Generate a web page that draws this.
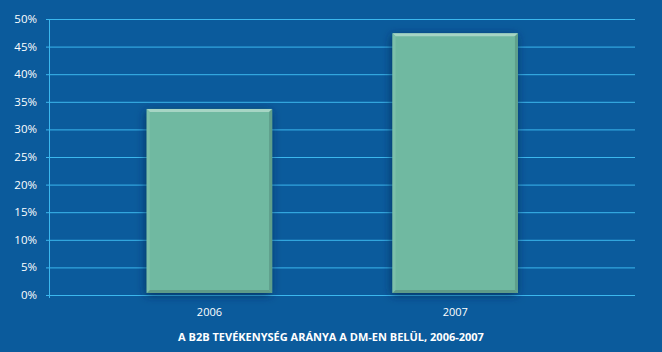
<!DOCTYPE html>
<html>
<head>
<meta charset="utf-8">
<script src="https://cdn.jsdelivr.net/npm/d3@7"></script>
<style>
  html, body { margin: 0; padding: 0; background: #0b5b9c; }
  svg text { font-family: "Open Sans", "DejaVu Sans", sans-serif; fill: #ffffff; }
</style>
</head>
<body>
<div id="container"></div>
<script>
const years = ["2006", "2007"];
const shares = [33.7, 47.4];
const yTicks = [0, 5, 10, 15, 20, 25, 30, 35, 40, 45, 50];
const title = "A B2B TEVÉKENYSÉG ARÁNYA A DM-EN BELÜL, 2006-2007";

const width = 662, height = 352;
const margin = { top: 19, right: 27, bottom: 57, left: 49 };

const svg = d3
  .select("#container")
  .append("svg")
  .attr("width", width)
  .attr("height", height);

svg.append("rect").attr("width", width).attr("height", height).attr("fill", "#0b5b9c");

const defs = svg.append("defs");
const shadow = defs.append("filter").attr("id", "shadow")
  .attr("x", "-20%").attr("y", "-10%").attr("width", "140%").attr("height", "120%");
shadow.append("feDropShadow")
  .attr("dx", -1).attr("dy", 2).attr("stdDeviation", 5)
  .attr("flood-color", "#03294f").attr("flood-opacity", 0.75);

const xScale = d3
  .scaleBand()
  .domain(years)
  .range([margin.left, width - margin.right])
  .paddingInner(0.49)
  .paddingOuter(0.437)
  .align(0.455);

const yScale = d3
  .scaleLinear()
  .domain([0, 50])
  .range([height - margin.bottom, margin.top]);

// grid lines
svg.append("g")
  .selectAll("line")
  .data(yTicks)
  .enter()
  .append("line")
  .attr("x1", margin.left - 3)
  .attr("x2", width - margin.right)
  .attr("y1", (d) => yScale(d) + 0.5)
  .attr("y2", (d) => yScale(d) + 0.5)
  .attr("stroke", "#3cb8ee")
  .attr("stroke-width", 1);

// vertical axis line
svg.append("line")
  .attr("x1", margin.left + 0.5)
  .attr("x2", margin.left + 0.5)
  .attr("y1", yScale(50))
  .attr("y2", yScale(0) + 3)
  .attr("stroke", "#3cb8ee");

// y tick labels
svg.append("g")
  .selectAll("text")
  .data(yTicks)
  .enter()
  .append("text")
  .attr("x", 37)
  .attr("y", (d) => yScale(d) + 4)
  .attr("text-anchor", "end")
  .style("font-size", "11.5px")
  .text((d) => d + "%");

// bars with bevel
const bar = svg.append("g")
  .selectAll("g")
  .data(years)
  .enter()
  .append("g");

const bv = 3;
const bx = (d) => xScale(d);
const by = (d, i) => yScale(shares[i]);
const bw = xScale.bandwidth();
const bh = (d, i) => yScale(0) - yScale(shares[i]) - 2;

bar.append("rect")
  .attr("x", bx)
  .attr("y", by)
  .attr("width", bw)
  .attr("height", bh)
  .attr("fill", "#6fb9a1")
  .attr("filter", "url(#shadow)");

// top bevel
bar.append("polygon")
  .attr("points", (d, i) => {
    const x = bx(d), y = by(d, i);
    return [[x, y], [x + bw, y], [x + bw - bv, y + bv], [x + bv, y + bv]].join(" ");
  })
  .attr("fill", "#a6d5c4");

// right bevel
bar.append("polygon")
  .attr("points", (d, i) => {
    const x = bx(d), y = by(d, i), h = bh(d, i);
    return [[x + bw, y], [x + bw, y + h], [x + bw - bv, y + h - bv], [x + bw - bv, y + bv]].join(" ");
  })
  .attr("fill", "#5f9f8b");

// bottom bevel
bar.append("polygon")
  .attr("points", (d, i) => {
    const x = bx(d), y = by(d, i), h = bh(d, i);
    return [[x, y + h], [x + bw, y + h], [x + bw - bv, y + h - bv], [x + bv, y + h - bv]].join(" ");
  })
  .attr("fill", "#5f9c88");

// left bevel
bar.append("polygon")
  .attr("points", (d, i) => {
    const x = bx(d), y = by(d, i), h = bh(d, i);
    return [[x, y], [x + bv, y + bv], [x + bv, y + h - bv], [x, y + h]].join(" ");
  })
  .attr("fill", "#7dc0aa");

// category labels
svg.append("g")
  .selectAll("text")
  .data(years)
  .enter()
  .append("text")
  .attr("x", (d) => xScale(d) + bw / 2)
  .attr("y", 316)
  .attr("text-anchor", "middle")
  .style("font-size", "11px")
  .text((d) => d);

svg.append("text")
  .attr("x", 331)
  .attr("y", 341)
  .attr("text-anchor", "middle")
  .style("font-size", "11px")
  .style("font-weight", "bold")
  .text(title);
</script>
</body>
</html>
